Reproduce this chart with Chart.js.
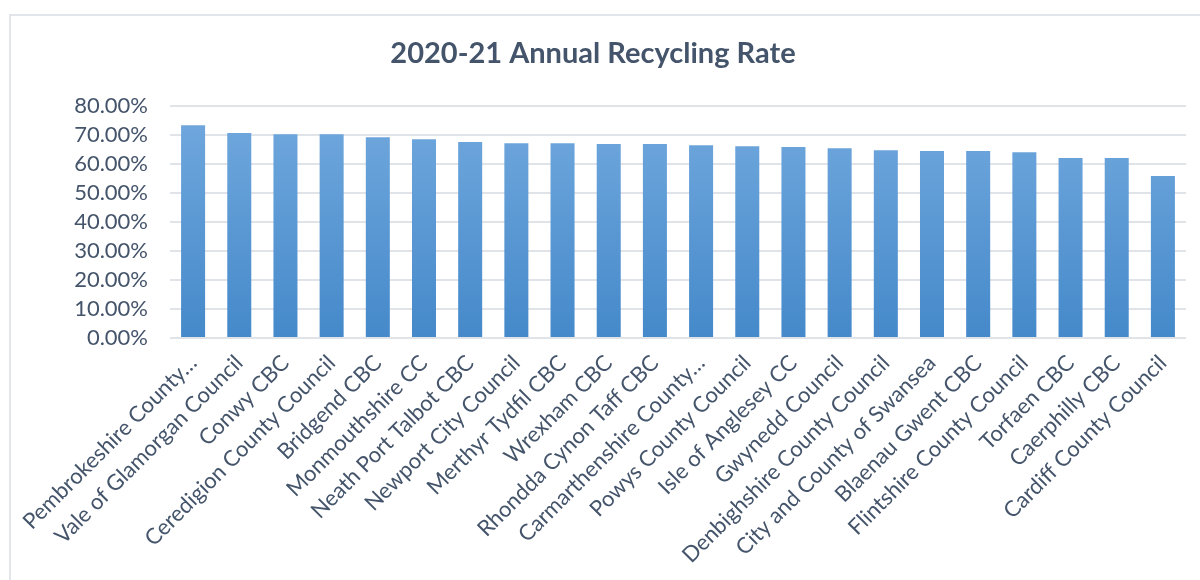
<!DOCTYPE html>
<html>
<head>
<meta charset="utf-8">
<script src="https://cdn.jsdelivr.net/npm/chart.js@4"></script>
<style>
  html, body { margin: 0; padding: 0; background: #fff; }
  #wrap { position: relative; width: 1200px; height: 580px; overflow: hidden; }
  #frame { position: absolute; left: 9px; top: 14px; width: 1250px; height: 650px;
           border: 2px solid #e2e6eb; box-sizing: border-box; }
  #chart { position: absolute; left: 0; top: 0; }
</style>
</head>
<body>
<div id="wrap">
  <div id="frame"></div>
  <canvas id="chart" width="1200" height="580"></canvas>
</div>
<script>
const councils = [
    'Pembrokeshire County…', 'Vale of Glamorgan Council', 'Conwy CBC', 'Ceredigion County Council',
    'Bridgend CBC', 'Monmouthshire CC', 'Neath Port Talbot CBC', 'Newport City Council',
    'Merthyr Tydfil CBC', 'Wrexham CBC', 'Rhondda Cynon Taff CBC', 'Carmarthenshire County…',
    'Powys County Council', 'Isle of Anglesey CC', 'Gwynedd Council', 'Denbighshire County Council',
    'City and County of Swansea', 'Blaenau Gwent CBC', 'Flintshire County Council', 'Torfaen CBC',
    'Caerphilly CBC', 'Cardiff County Council'
];
// recycling rate, percent
const rates = [
    73.3, 70.6, 70.2, 70.2, 69.2, 68.5, 67.5, 67.1, 67.1, 66.8, 66.8,
    66.4, 66.1, 65.8, 65.4, 64.7, 64.4, 64.4, 64.0, 62.0, 62.0, 55.8
];
const yTicks = [0, 10, 20, 30, 40, 50, 60, 70, 80];

const textColor = '#44546a';
const gridColor = '#e0e4e9';
const fontFamily = 'Lato, "Open Sans", sans-serif';

const barFill = (context) => {
    const { chart } = context;
    const area = chart.chartArea;
    if (!area) return '#5b9bd5';
    const g = chart.ctx.createLinearGradient(0, area.top, 0, area.bottom);
    g.addColorStop(0, '#72a9de');
    g.addColorStop(1, '#4589ca');
    return g;
};

new Chart(document.getElementById('chart'), {
    type: 'bar',
    data: {
        labels: councils,
        datasets: [{
            label: '2020-21 Annual Recycling Rate',
            data: rates,
            backgroundColor: barFill,
            borderWidth: 0,
            barPercentage: 0.52,
            categoryPercentage: 1
        }]
    },
    options: {
        responsive: false,
        animation: false,
        layout: { padding: { top: 18, right: 14, bottom: 0, left: 0 } },
        plugins: {
            legend: { display: false },
            tooltip: { enabled: false },
            title: {
                display: true,
                text: '2020-21 Annual Recycling Rate',
                color: textColor,
                font: { family: fontFamily, size: 29, weight: 'bold' },
                padding: { top: 18, bottom: 35 }
            }
        },
        scales: {
            x: {
                grid: { display: false },
                border: { display: false },
                ticks: {
                    color: textColor,
                    font: { family: fontFamily, size: 22 },
                    maxRotation: 45,
                    minRotation: 45,
                    autoSkip: false,
                    padding: 4
                },
                afterFit: (scale) => { scale.height = 242; }
            },
            y: {
                min: 0,
                max: 80,
                afterBuildTicks: (scale) => { scale.ticks = yTicks.map(v => ({ value: v })); },
                grid: { color: gridColor, lineWidth: 2, drawTicks: false },
                border: { display: false },
                ticks: {
                    color: textColor,
                    font: { family: fontFamily, size: 22 },
                    padding: 22,
                    autoSkip: false,
                    callback: (v) => v.toFixed(2) + '%'
                },
                afterFit: (scale) => { scale.width = 170; }
            }
        }
    }
});
</script>
</body>
</html>
